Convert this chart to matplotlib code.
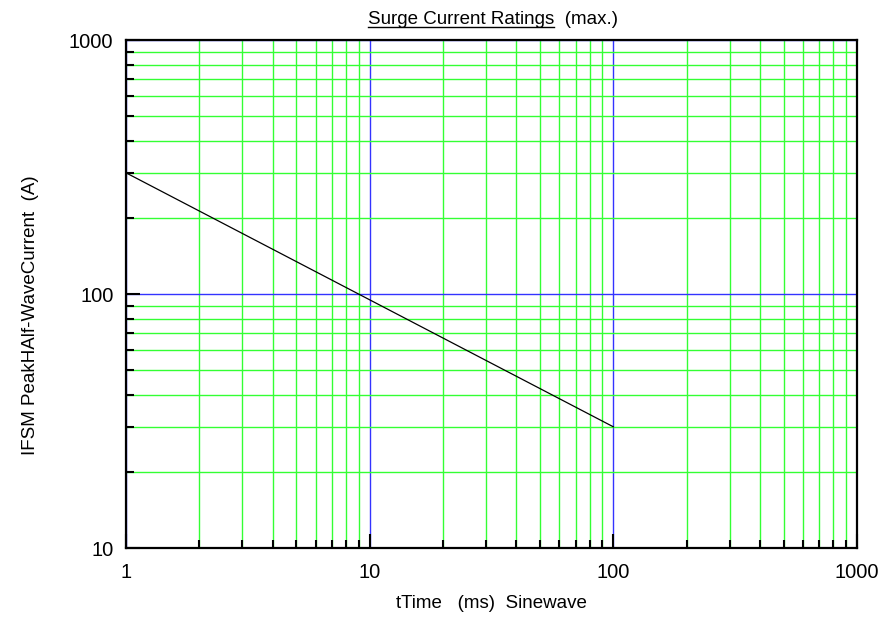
import matplotlib as mpl
mpl.use('Agg')
import matplotlib.pyplot as plt
from matplotlib.ticker import LogLocator, NullFormatter, FixedLocator, FixedFormatter

plt.rcParams['font.family'] = ['Liberation Sans', 'DejaVu Sans']

# surge rating curve (ms, A)
time_ms = [1, 100]
ifsm_a = [300, 30]

x_ticks = [1, 10, 100, 1000]
y_ticks = [10, 100, 1000]
tick_labels_x = ['1', '10', '100', '1000']
tick_labels_y = ['10', '100', '1000']

fig = plt.figure(figsize=(8.85, 6.23), dpi=100)
ax = fig.add_axes([126 / 885, 1 - 548 / 623, (857 - 126) / 885, (548 - 40) / 623])

ax.set_xscale('log')
ax.set_yscale('log')
ax.set_xlim(1, 1000)
ax.set_ylim(10, 1000)

ax.xaxis.set_major_locator(FixedLocator(x_ticks))
ax.xaxis.set_major_formatter(FixedFormatter(tick_labels_x))
ax.yaxis.set_major_locator(FixedLocator(y_ticks))
ax.yaxis.set_major_formatter(FixedFormatter(tick_labels_y))
ax.xaxis.set_minor_locator(LogLocator(base=10, subs=range(2, 10)))
ax.yaxis.set_minor_locator(LogLocator(base=10, subs=range(2, 10)))
ax.xaxis.set_minor_formatter(NullFormatter())
ax.yaxis.set_minor_formatter(NullFormatter())

ax.grid(True, which='minor', color='#33ff33', linewidth=1.0)
ax.grid(True, which='major', color='#3333ff', linewidth=1.0)
ax.set_axisbelow(True)

ax.plot(time_ms, ifsm_a, color='black', linewidth=0.9)

for s in ax.spines.values():
    s.set_linewidth(1.6)
ax.tick_params(which='both', direction='in', top=False, right=False, width=1.5, labelsize=14.5)
ax.tick_params(axis='x', which='both', pad=11)
ax.tick_params(axis='y', which='both', pad=9)
ax.tick_params(which='major', length=10)
ax.tick_params(which='minor', length=6)

ax.set_xlabel('tTime   (ms)  Sinewave', fontsize=13.5, labelpad=9)
ax.set_ylabel('IFSM PeakHAlf-WaveCurrent  (A)', fontsize=13.5, va='center')
# label sits a bit below the axes centre in the original
ax.yaxis.set_label_coords(-0.13, 0.459)

title = fig.text(0.5565, 1 - 20 / 623, 'Surge Current Ratings  (max.)', ha='center', va='center', fontsize=13.5)
fig.canvas.draw()
r = fig.canvas.get_renderer()
bb = title.get_window_extent(r)
tmp = fig.text(0, 0, 'Surge Current Ratings', fontsize=13.5)
w = tmp.get_window_extent(r).width
tmp.remove()
y_u = (bb.y0 + 1.5) / fig.bbox.height
fig.add_artist(plt.Line2D([bb.x0 / fig.bbox.width, (bb.x0 + w) / fig.bbox.width], [y_u, y_u],
                          color='black', linewidth=1.0, transform=fig.transFigure))

plt.savefig('out.png', dpi=100)
